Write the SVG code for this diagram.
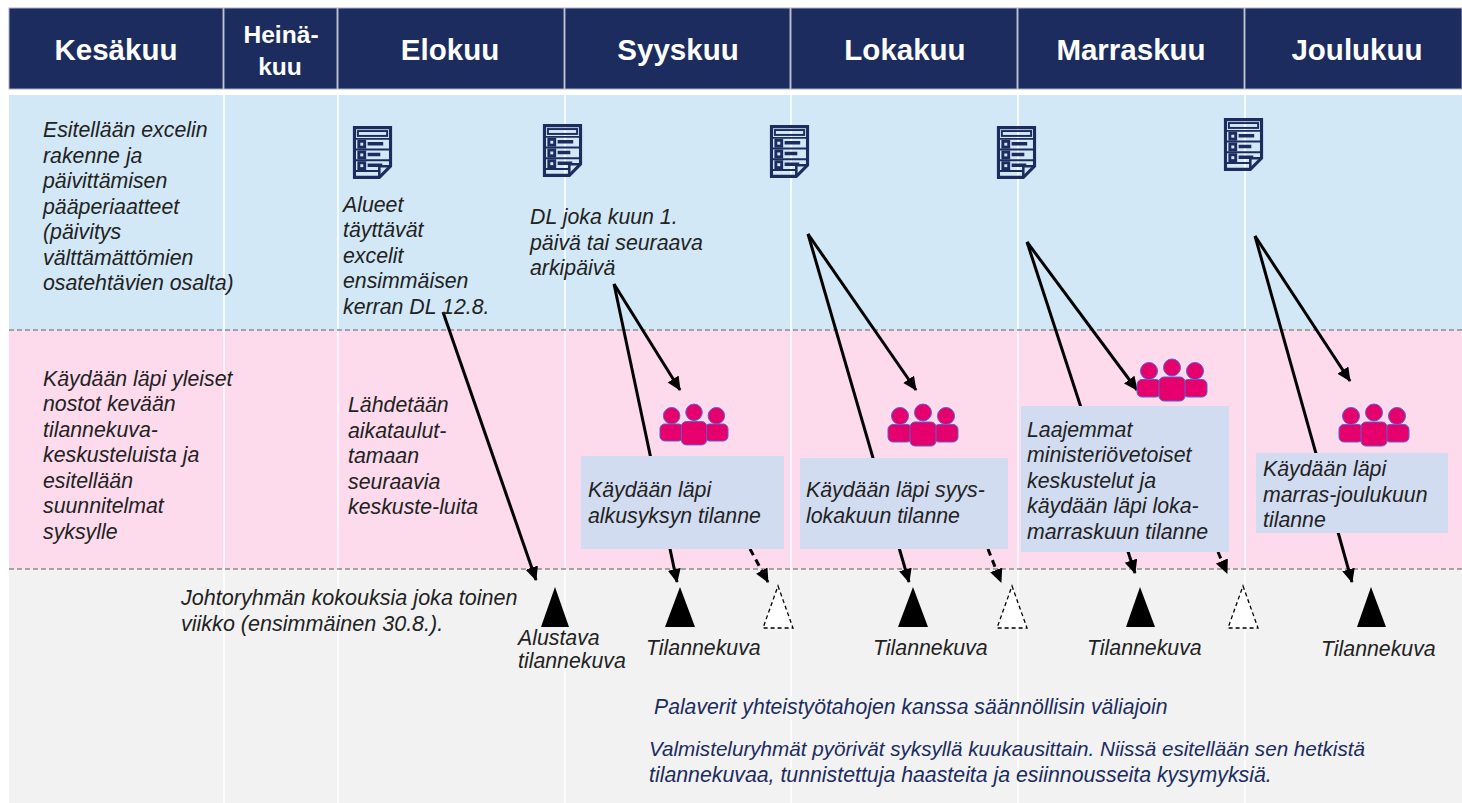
<svg xmlns="http://www.w3.org/2000/svg" xmlns:xlink="http://www.w3.org/1999/xlink" width="1462" height="803" viewBox="0 0 1462 803">
<style>
text{font-family:"Liberation Sans",Arial,sans-serif}
.h{font-size:29.5px;font-weight:bold;fill:#fff;text-anchor:middle}
.hs{font-size:24.6px;font-weight:bold;fill:#fff;text-anchor:middle}
.t{font-size:21.3px;font-style:italic;fill:#222}
.b{font-size:20.7px;font-style:italic;fill:#1c2c5e}
.hd{fill:#1c2c5e;stroke:#a9afc4;stroke-width:1}
.sep{stroke:#fff;stroke-width:1.5}
.dash{stroke:#8c8c8c;stroke-width:1.5;stroke-dasharray:5 3;fill:none}
.box{fill:#d2dcf1}
.arr{stroke:#000;stroke-width:3;fill:none;marker-end:url(#ah)}
.arrd{stroke:#000;stroke-width:3;fill:none;stroke-dasharray:7 5;marker-end:url(#ah)}
.solid{fill:#000}
.open{fill:#fff;stroke:#000;stroke-width:1.3;stroke-dasharray:4 3}
</style>
<defs>
<marker id="ah" markerWidth="15" markerHeight="14" refX="13" refY="6.5" orient="auto" markerUnits="userSpaceOnUse"><path d="M0 0L14 6.5L0 13Z" fill="#000"/></marker>
<symbol id="doc" viewBox="0 0 40 54" overflow="visible">
<path d="M1.5 1.5H38.5V41L27 52.5H1.5Z" fill="none" stroke="#1c2c5e" stroke-width="3.2"/>
<path d="M27 52V41H38" fill="none" stroke="#1c2c5e" stroke-width="2.6"/>
<rect x="5" y="5" width="30" height="5" fill="none" stroke="#1c2c5e" stroke-width="2"/>
<path d="M3 13H37M3 24H37M3 35H37M3 46H27" stroke="#1c2c5e" stroke-width="2"/>
<g fill="none" stroke="#1c2c5e" stroke-width="3"><rect x="6" y="15.5" width="6" height="6"/><rect x="6" y="26.5" width="6" height="6"/><rect x="6" y="37.5" width="6" height="6"/></g>
<path d="M15 18H31M15 29H28M15 40H30" stroke="#1c2c5e" stroke-width="3.6"/>
</symbol>
<symbol id="team" viewBox="0 0 72 42" overflow="visible">
<g fill="#e6006e" stroke="#5566cc" stroke-width="1">
<circle cx="13" cy="12" r="8.5"/><circle cx="59" cy="12" r="8.5"/>
<rect x="1" y="20.5" width="24" height="17.5" rx="5"/><rect x="47" y="20.5" width="24" height="17.5" rx="5"/>
<circle cx="36" cy="8.5" r="8.5"/><rect x="23" y="18" width="26" height="24" rx="5"/>
</g>
</symbol>
</defs>
<rect width="1462" height="803" fill="#fff"/>
<g id="bands">
<rect x="9" y="95" width="1453" height="235" fill="#d2e8f6"/>
<rect x="9" y="330" width="1453" height="239" fill="#fddbec"/>
<rect x="9" y="569" width="1453" height="234" fill="#f2f2f2"/>
<path class="sep" d="M224 95V803M338 95V803M565 95V803M791 95V803M1018 95V803M1245 95V803"/>
<path class="dash" d="M9 330H1462M9 569H1462"/>
</g>
<g id="connectors">
<path class="arr" d="M443 312L536 580"/>
<path class="arr" d="M614 284L680 390"/>
<path class="arr" d="M614 284L677 582"/>
<path class="arrd" d="M750 549L768 582"/>
<path class="arr" d="M808 234L916 390"/>
<path class="arr" d="M808 234L909 582"/>
<path class="arrd" d="M988 549L1001 582"/>
<path class="arr" d="M1027 242L1137 390"/>
<path class="arr" d="M1027 242L1135 573"/>
<path class="arrd" d="M1218 552L1227 573"/>
<path class="arr" d="M1255 236L1350 381"/>
<path class="arr" d="M1255 236L1352 582"/>
</g>
<g id="header">
<g id="h-kesakuu"><rect class="hd" x="9" y="8" width="214" height="81"/><text class="h" x="116" y="60">Kesäkuu</text></g>
<g id="h-heinakuu"><rect class="hd" x="224" y="8" width="113" height="81"/><text class="hs" x="281" y="43">Heinä-</text><text class="hs" x="280" y="75">kuu</text></g>
<g id="h-elokuu"><rect class="hd" x="338" y="8" width="226" height="81"/><text class="h" x="450" y="60">Elokuu</text></g>
<g id="h-syyskuu"><rect class="hd" x="565" y="8" width="225" height="81"/><text class="h" x="678" y="60">Syyskuu</text></g>
<g id="h-lokakuu"><rect class="hd" x="791" y="8" width="226" height="81"/><text class="h" x="905" y="60">Lokakuu</text></g>
<g id="h-marraskuu"><rect class="hd" x="1018" y="8" width="226" height="81"/><text class="h" x="1131" y="60">Marraskuu</text></g>
<g id="h-joulukuu"><rect class="hd" x="1245" y="8" width="217" height="81"/><text class="h" x="1357" y="60">Joulukuu</text></g>
</g>
<g id="docs">
<use id="doc1" href="#doc" x="353" y="126" width="39" height="53"/>
<use id="doc2" href="#doc" x="543" y="124" width="39" height="53"/>
<use id="doc3" href="#doc" x="770" y="125" width="39" height="53"/>
<use id="doc4" href="#doc" x="997" y="126" width="39" height="53"/>
<use id="doc5" href="#doc" x="1224" y="118" width="39" height="53"/>
</g>
<g id="teams">
<use id="team1" href="#team" x="659" y="404" width="70" height="41"/>
<use id="team2" href="#team" x="887" y="404" width="72" height="42"/>
<use id="team3" href="#team" x="1136" y="359" width="72" height="42"/>
<use id="team4" href="#team" x="1338" y="404" width="72" height="42"/>
</g>
<g id="note-excel"><text class="t"><tspan x="43" y="137">Esitellään excelin</tspan><tspan x="43" y="163">rakenne ja</tspan><tspan x="43" y="188">päivittämisen</tspan><tspan x="43" y="214">pääperiaatteet</tspan><tspan x="43" y="239">(päivitys</tspan><tspan x="43" y="265">välttämättömien</tspan><tspan x="43" y="290">osatehtävien osalta)</tspan></text></g>
<g id="note-alueet"><text class="t"><tspan x="343" y="212">Alueet</tspan><tspan x="343" y="237">täyttävät</tspan><tspan x="343" y="263">excelit</tspan><tspan x="343" y="288">ensimmäisen</tspan><tspan x="343" y="314">kerran DL 12.8.</tspan></text></g>
<g id="note-dl"><text class="t"><tspan x="530" y="224">DL joka kuun 1.</tspan><tspan x="530" y="250">päivä tai seuraava</tspan><tspan x="530" y="275">arkipäivä</tspan></text></g>
<g id="note-yleiset"><text class="t"><tspan x="43" y="386">Käydään läpi yleiset</tspan><tspan x="43" y="411">nostot kevään</tspan><tspan x="43" y="437">tilannekuva-</tspan><tspan x="43" y="462">keskusteluista ja</tspan><tspan x="43" y="488">esitellään</tspan><tspan x="43" y="513">suunnitelmat</tspan><tspan x="43" y="539">syksylle</tspan></text></g>
<g id="note-lahdetaan"><text class="t"><tspan x="348" y="412">Lähdetään</tspan><tspan x="348" y="438">aikataulut-</tspan><tspan x="348" y="463">tamaan</tspan><tspan x="348" y="489">seuraavia</tspan><tspan x="348" y="514">keskuste-luita</tspan></text></g>
<g id="box-syys"><rect class="box" x="581" y="456" width="203" height="93"/><text class="t"><tspan x="588" y="497">Käydään läpi</tspan><tspan x="588" y="523">alkusyksyn tilanne</tspan></text></g>
<g id="box-loka"><rect class="box" x="800" y="458" width="208" height="91"/><text class="t"><tspan x="806" y="497">Käydään läpi syys-</tspan><tspan x="806" y="523">lokakuun tilanne</tspan></text></g>
<g id="box-marras"><rect class="box" x="1021" y="406" width="208" height="146"/><text class="t"><tspan x="1027" y="437">Laajemmat</tspan><tspan x="1027" y="462">ministeriövetoiset</tspan><tspan x="1027" y="488">keskustelut ja</tspan><tspan x="1027" y="513">käydään läpi loka-</tspan><tspan x="1027" y="539">marraskuun tilanne</tspan></text></g>
<g id="box-joulu"><rect class="box" x="1256" y="453" width="192" height="80"/><text class="t"><tspan x="1263" y="476">Käydään läpi</tspan><tspan x="1263" y="502">marras-joulukuun</tspan><tspan x="1263" y="527">tilanne</tspan></text></g>
<g id="note-joryhma"><text class="t" style="font-size:21.55px"><tspan x="181" y="605">Johtoryhmän kokouksia joka toinen</tspan><tspan x="181" y="631">viikko (ensimmäinen 30.8.).</tspan></text></g>
<g id="milestones">
<path id="m1" class="solid" d="M555 587L569 627H541Z"/>
<path id="m2" class="solid" d="M680 587L695 627H665Z"/>
<path id="m3" class="open" d="M778 586L793 628H763Z"/>
<path id="m4" class="solid" d="M913 587L928 627H898Z"/>
<path id="m5" class="open" d="M1012 586L1027 628H997Z"/>
<path id="m6" class="solid" d="M1140 587L1155 627H1126Z"/>
<path id="m7" class="open" d="M1243 586L1258 628H1228Z"/>
<path id="m8" class="solid" d="M1371 587L1386 627H1357Z"/>
</g>
<g id="labels-tilannekuva"><text class="t"><tspan x="518" y="645">Alustava</tspan><tspan x="518" y="668">tilannekuva</tspan></text>
<text class="t" x="646" y="655">Tilannekuva</text><text class="t" x="873" y="655">Tilannekuva</text><text class="t" x="1087" y="655">Tilannekuva</text><text class="t" x="1321" y="656">Tilannekuva</text></g>
<g id="note-palaverit"><text class="b" style="font-size:21.2px" x="654" y="714">Palaverit yhteistyötahojen kanssa säännöllisin väliajoin</text></g>
<g id="note-valmistelu"><text class="b" x="649" y="756" textLength="716" lengthAdjust="spacing">Valmisteluryhmät pyörivät syksyllä kuukausittain. Niissä esitellään sen hetkistä</text><text class="b" style="font-size:21.3px" x="649" y="782">tilannekuvaa, tunnistettuja haasteita ja esiinnousseita kysymyksiä.</text></g>
</svg>
